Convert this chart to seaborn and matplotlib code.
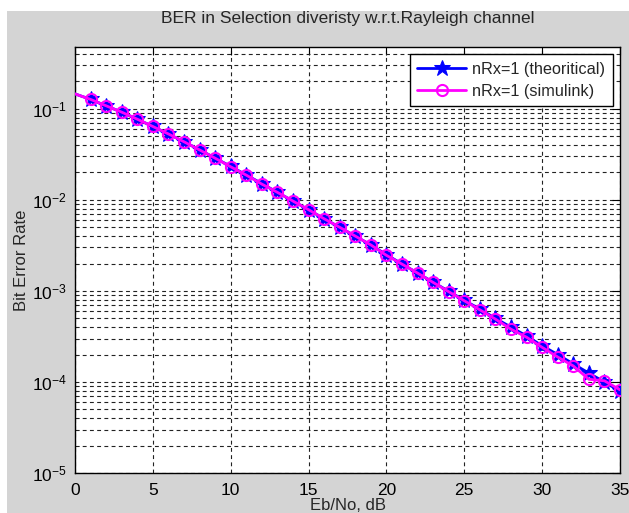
import numpy as np
import pandas as pd
import matplotlib
matplotlib.use("Agg")
import matplotlib.pyplot as plt
from matplotlib.patches import Rectangle
from matplotlib.ticker import LogLocator, LogFormatterMathtext, NullFormatter
import seaborn as sns

# ---- data ----
ebno_db = list(range(0, 36))
ber_theory = [0.146, 0.127, 0.108, 0.092, 0.077, 0.064, 0.053, 0.0435, 0.0355, 0.0288,
              0.0233, 0.0188, 0.0151, 0.0121, 0.0097, 0.0078, 0.0062, 0.0050, 0.0040,
              0.0032, 0.00250, 0.00198, 0.00157, 0.00125, 0.00099, 0.00079, 0.00063,
              0.00050, 0.00040, 0.00032, 0.00025, 0.000200, 0.000158, 0.000125,
              0.000100, 0.000079]
ber_sim = [0.146, 0.127, 0.108, 0.092, 0.077, 0.064, 0.053, 0.0435, 0.0354, 0.0287,
           0.0231, 0.0187, 0.0149, 0.0121, 0.0097, 0.0078, 0.0062, 0.0050, 0.0040,
           0.0032, 0.00246, 0.00197, 0.00157, 0.00124, 0.00098, 0.00078, 0.00062,
           0.00049, 0.00038, 0.00031, 0.00024, 0.000188, 0.000150, 0.000107,
           0.000103, 0.000082]
labels = ["nRx=1 (theoritical)", "nRx=1 (simulink)"]
title = "BER in Selection diveristy w.r.t.Rayleigh channel"
xlabel = "Eb/No, dB"
ylabel = "Bit Error Rate"
xticks = [0, 5, 10, 15, 20, 25, 30, 35]

df_t = pd.DataFrame({"x": ebno_db, "y": ber_theory})
df_s = pd.DataFrame({"x": ebno_db, "y": ber_sim})

sns.set_theme(style="white")
plt.rcParams["font.family"] = ["Liberation Sans", "DejaVu Sans"]
plt.rcParams["mathtext.fontset"] = "custom"
plt.rcParams["mathtext.rm"] = "Liberation Sans"
plt.rcParams["mathtext.it"] = "Liberation Sans"
plt.rcParams["mathtext.bf"] = "Liberation Sans"

W, H = 629, 513
fig = plt.figure(figsize=(W / 100, H / 100), dpi=100)
fig.patch.set_facecolor("white")
gray = "#d4d4d4"
bg = Rectangle((7 / W, 0), 1, (H - 11) / H, transform=fig.transFigure,
               facecolor=gray, edgecolor="none", zorder=-10)
fig.patches.append(bg)

ax = fig.add_axes([75 / W, (H - 473) / H, (620 - 75) / W, (473 - 47) / H])
ax.set_facecolor("white")

sns.lineplot(data=df_t, x="x", y="y", ax=ax, color="#0000ff", linewidth=2,
             marker="*", markersize=12, markeredgecolor="#0000ff",
             markerfacecolor="#0000ff", markevery=slice(1, None),
             label=labels[0], zorder=3)
sns.lineplot(data=df_s, x="x", y="y", ax=ax, color="#ff00ff", linewidth=2,
             marker="o", markersize=8, markeredgecolor="#ff00ff",
             markerfacecolor="none", markeredgewidth=1.5,
             markevery=slice(1, None), label=labels[1], zorder=4)

ax.set_yscale("log")
ax.set_xlim(0, 35)
ax.set_ylim(1e-5, 0.478)
ax.set_xticks(xticks)
ax.xaxis.set_minor_locator(plt.NullLocator())
ax.yaxis.set_major_locator(LogLocator(base=10, numticks=10))
ax.yaxis.set_minor_locator(LogLocator(base=10, subs=np.arange(2, 10), numticks=20))
ax.yaxis.set_major_formatter(LogFormatterMathtext())
ax.yaxis.set_minor_formatter(NullFormatter())

gs = dict(color="#222222", linestyle=(0, (3.5, 3)), linewidth=0.8)
ax.grid(True, which="major", axis="both", **gs)
ax.grid(True, which="minor", axis="y", **gs)

for s in ax.spines.values():
    s.set_color("black")
    s.set_linewidth(1.0)
ax.tick_params(axis="both", which="major", direction="in", length=6, width=0.8,
               top=True, right=True, labelsize=12.5, colors="black", pad=7)
ax.tick_params(axis="y", which="minor", direction="in", length=3, width=0.6,
               left=True, right=True)
ax.tick_params(axis="y", which="major", pad=6)

ax.set_title(title, fontsize=12.5, pad=17)
ax.set_xlabel(xlabel, fontsize=12, labelpad=0)
ax.set_ylabel(ylabel, fontsize=12, labelpad=2)

leg = ax.legend(loc="upper right", fontsize=11.7, frameon=True, fancybox=False,
                handlelength=3.0, borderaxespad=0.45, borderpad=0.45,
                labelspacing=0.45, handletextpad=0.4)
leg.get_frame().set_edgecolor("black")
leg.get_frame().set_linewidth(1.0)
leg.get_frame().set_facecolor("white")
leg.get_frame().set_alpha(1)

fig.savefig("out.png", dpi=100, facecolor=fig.get_facecolor())
